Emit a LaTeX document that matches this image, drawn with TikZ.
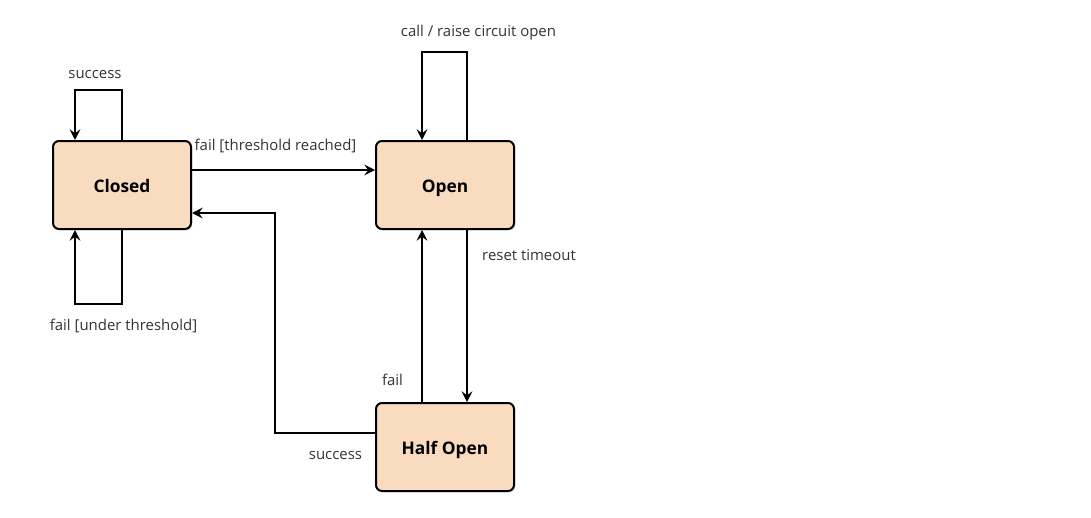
\documentclass[tikz,border=0pt]{standalone}
\usepackage{fontspec}
\setmainfont{Open Sans}
\usetikzlibrary{arrows.meta,shadows}
\definecolor{statefill}{HTML}{F9DCC0}
\definecolor{labeltext}{HTML}{333333}
\tikzset{
  state/.style={draw, line width=1.5pt, rounded corners=4.5pt, fill=statefill,
    minimum width=103.5pt, minimum height=66pt, font=\fontsize{13}{15}\selectfont\bfseries,
    text height=2.2ex, text depth=0.1ex,
    drop shadow={shadow xshift=1pt, shadow yshift=-1pt, opacity=0.25}},
  trans/.style={->, line width=1.3pt},
  lbl/.style={text=labeltext, font=\fontsize{11.2}{13}\selectfont, inner sep=0pt}
}
\begin{document}
\begin{tikzpicture}[x=0.75pt,y=-0.75pt,>={Stealth[length=8pt,width=8pt,inset=3pt]}]
  \useasboundingbox (0,0) rectangle (1091,517);
  \node[state] (closed) at (122,185) {Closed};
  \node[state] (open) at (445,185) {Open};
  \node[state] (halfopen) at (445,447) {Half Open};
  % self loops
  \draw[trans] (closed.north) -- ++(0,-50) -- ++(-47,0) -- ++(0,50);
  \draw[trans] (closed.south) -- ++(0,74) -- ++(-47,0) -- ++(0,-74);
  \draw[trans] ([xshift=16.5pt]open.north) -- ++(0,-88) -- ++(-45,0) -- ++(0,88);
  % transitions
  \draw[trans] ([yshift=11.25pt]closed.east) -- ([yshift=11.25pt]open.west);
  \draw[trans] ([xshift=16.5pt]open.south) -- ([xshift=16.5pt]halfopen.north);
  \draw[trans] ([xshift=-17.25pt]halfopen.north) -- ([xshift=-17.25pt]open.south);
  \draw[trans] ([yshift=10.5pt]halfopen.west) -- ++(-100,0) |- ([yshift=-21pt]closed.east);
  % labels
  \node[lbl] (succtop) at (95,75) {success};
  \node[lbl] (failunder) at (123.5,326) {fail [under threshold]};
  \node[lbl] (failreached) at (275.5,146) {fail [threshold reached]};
  \node[lbl] (callraise) at (478.5,33) {call / raise circuit open};
  \node[lbl] (reset) at (529,255) {reset timeout};
  \node[lbl] (failhalf) at (392.5,380) {fail};
  \node[lbl] (succhalf) at (335.5,455) {success};
\end{tikzpicture}
\end{document}
